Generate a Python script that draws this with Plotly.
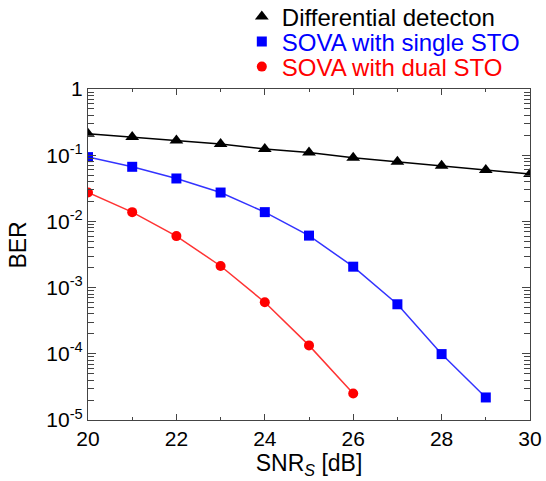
import plotly.graph_objects as go

snr = [20, 21, 22, 23, 24, 25, 26, 27, 28, 29, 30]
ber_diff = [0.211, 0.188, 0.167, 0.147, 0.124, 0.110, 0.0914, 0.0794, 0.069, 0.060, 0.052]
snr_single = [20, 21, 22, 23, 24, 25, 26, 27, 28, 29]
ber_single = [0.0936, 0.0668, 0.0445, 0.0273, 0.0138, 0.0061, 0.00207, 5.6e-4, 9.9e-5, 2.19e-5]
snr_dual = [20, 21, 22, 23, 24, 25, 26]
ber_dual = [0.0273, 0.0138, 0.0060, 0.00212, 6.0e-4, 1.34e-4, 2.52e-5]

names = ["Differential detecton", "SOVA with single STO", "SOVA with dual STO"]
colors = ["#000000", "#0000ff", "#ff0000"]
line_colors = ["#000000", "#3333ff", "#ff3333"]
symbols = ["triangle-up", "square", "circle"]
series = [(snr, ber_diff), (snr_single, ber_single), (snr_dual, ber_dual)]

y_major = [1, 1e-1, 1e-2, 1e-3, 1e-4, 1e-5]
y_labels = ["1", "10<sup>-1</sup>", "10<sup>-2</sup>", "10<sup>-3</sup>", "10<sup>-4</sup>", "10<sup>-5</sup>"]
x_major = [20, 22, 24, 26, 28, 30]
x_minor = [21, 23, 25, 27, 29]

legend_ids = ["legend", "legend2", "legend3"]

fig = go.Figure()
for (xs, ys), n, c in zip(series, names, line_colors):
    fig.add_trace(go.Scatter(x=xs, y=ys, mode="lines", line=dict(color=c, width=1.5),
                             showlegend=False, hoverinfo="skip"))
for (xs, ys), n, c, s, lg in zip(series, names, colors, symbols, legend_ids):
    fig.add_trace(go.Scatter(x=xs, y=ys, mode="markers", name=n, legend=lg,
                             marker=dict(symbol=s, color=c, size=10 if s != "triangle-up" else 12,
                                         line=dict(width=0))))

y_minor = [m * 10 ** e for e in range(-5, 0) for m in range(2, 10)]

font = "Liberation Sans, Arial, Helvetica, sans-serif"
# plot area in page pixels: x 88..530, y 89..420 (331 px tall)
def leg(ycenter_px, color):
    return dict(x=0.348, y=(420 - ycenter_px) / 331, xanchor="left", yanchor="middle",
                font=dict(size=24, color=color), bgcolor="rgba(0,0,0,0)",
                itemwidth=30, borderwidth=0)

fig.update_layout(
    width=546, height=481,
    margin=dict(l=88, r=16, t=89, b=61, autoexpand=False),
    plot_bgcolor="white", paper_bgcolor="white",
    font=dict(family=font, size=21, color="#000"),
    showlegend=True,
    legend=leg(17, "#000000"),
    legend2=leg(42, "#0000ff"),
    legend3=leg(67, "#ff0000"),
    xaxis=dict(range=[20, 30], tickvals=x_major, ticks="inside", ticklen=6,
               tickcolor="#444", showline=True, linecolor="#444", linewidth=1.2,
               mirror="ticks", showgrid=False, zeroline=False,
               minor=dict(tickvals=x_minor, ticks="inside", ticklen=3, tickcolor="#444", showgrid=False),
               title=dict(text="SNR<sub><i>S</i></sub> [dB]", standoff=0, font=dict(size=23)),
               tickfont=dict(size=21)),
    yaxis=dict(type="log", range=[-5, 0], tickvals=y_major, ticktext=y_labels,
               ticks="inside", ticklen=8, tickcolor="#444",
               showline=True, linecolor="#444", linewidth=1.2, mirror="ticks",
               showgrid=False, zeroline=False,
               minor=dict(tickvals=y_minor, ticks="inside", ticklen=6, tickcolor="#444", showgrid=False),
               title=dict(text="&nbsp;&nbsp;&nbsp;BER", standoff=13, font=dict(size=23)),
               tickfont=dict(size=21)),
)

fig.write_html("out.html", config={"displayModeBar": False},
               post_script="document.body.style.margin='0';document.body.style.overflow='hidden';")
